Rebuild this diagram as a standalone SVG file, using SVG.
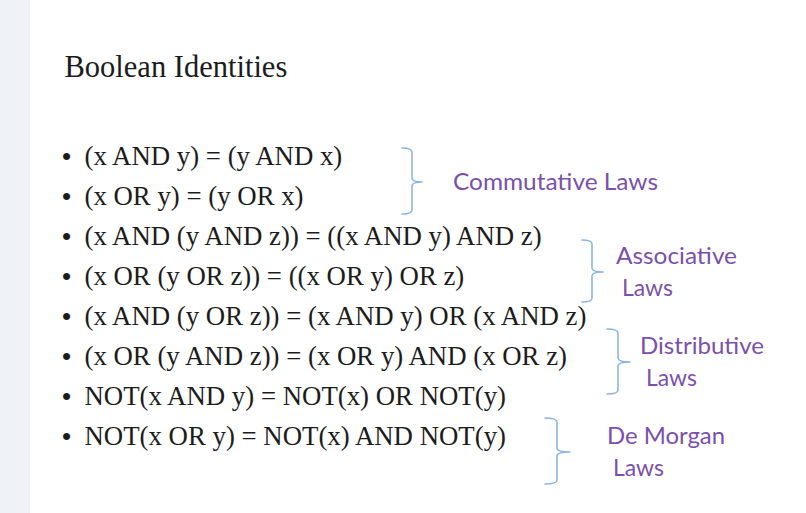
<svg xmlns="http://www.w3.org/2000/svg" width="806" height="513" viewBox="0 0 806 513">
<style>
.t{font-family:"Liberation Serif","Times New Roman",serif;font-size:26.8px;fill:#1c1c1c}
.title{font-family:"Liberation Serif","Times New Roman",serif;font-size:30.5px;fill:#1c1c1c}
.b{font-family:"Liberation Sans",Arial,sans-serif;font-size:26px;fill:#1c1c1c}
.lab{font-family:Lato,"Open Sans",sans-serif;font-size:22.5px;fill:#7b50aa}
.br{fill:none;stroke:#8fb5df;stroke-width:1.6;stroke-linecap:round;stroke-linejoin:round}
</style>
<rect x="0" y="0" width="806" height="513" fill="#ffffff"/>
<rect x="0" y="0" width="30" height="513" fill="#eff3f8"/>
<g id="title"><text class="title" x="64.5" y="77">Boolean Identities</text></g>
<g id="line1"><text class="b" x="62" y="164.5">•</text><text class="t" x="84.5" y="164.5">(x AND y) = (y AND x)</text></g>
<g id="line2"><text class="b" x="62" y="204.6">•</text><text class="t" x="84.5" y="204.6">(x OR y) = (y OR x)</text></g>
<g id="line3"><text class="b" x="62" y="244.8">•</text><text class="t" x="84.5" y="244.8">(x AND (y AND z)) = ((x AND y) AND z)</text></g>
<g id="line4"><text class="b" x="62" y="284.9">•</text><text class="t" x="84.5" y="284.9">(x OR (y OR z)) = ((x OR y) OR z)</text></g>
<g id="line5"><text class="b" x="62" y="325">•</text><text class="t" x="84.5" y="325">(x AND (y OR z)) = (x AND y) OR (x AND z)</text></g>
<g id="line6"><text class="b" x="62" y="365.2">•</text><text class="t" x="84.5" y="365.2">(x OR (y AND z)) = (x OR y) AND (x OR z)</text></g>
<g id="line7"><text class="b" x="62" y="405.3">•</text><text class="t" x="84.5" y="405.3">NOT(x AND y) = NOT(x) OR NOT(y)</text></g>
<g id="line8"><text class="b" x="62" y="445.4">•</text><text class="t" x="84.5" y="445.4">NOT(x OR y) = NOT(x) AND NOT(y)</text></g>
<g id="connectors">
<path class="br" d="M402,148 Q412,148 412,152 V178 Q412,182 422,182 Q412,182 412,186 V210 Q412,214 402,214"/>
<path class="br" d="M582,240 Q592,240 592,244 V268 Q592,272 603,272 Q592,272 592,276 V298 Q592,302 582,302"/>
<path class="br" d="M607,329 Q618,329 618,333 V358 Q618,362 630,362 Q618,362 618,366 V390 Q618,394 607,394"/>
<path class="br" d="M545,418 Q557,418 557,422 V448 Q557,452 570,452 Q557,452 557,456 V480 Q557,484 545,484"/>
</g>
<g id="commutative"><text class="lab" x="453" y="190" textLength="205" lengthAdjust="spacingAndGlyphs">Commutative Laws</text></g>
<g id="associative"><text class="lab" x="616" y="264" textLength="121" lengthAdjust="spacingAndGlyphs">Associative</text><text class="lab" x="622" y="296" textLength="51" lengthAdjust="spacingAndGlyphs">Laws</text></g>
<g id="distributive"><text class="lab" x="640" y="354" textLength="124" lengthAdjust="spacingAndGlyphs">Distributive</text><text class="lab" x="646" y="386" textLength="51" lengthAdjust="spacingAndGlyphs">Laws</text></g>
<g id="demorgan"><text class="lab" x="607" y="444" textLength="118" lengthAdjust="spacingAndGlyphs">De Morgan</text><text class="lab" x="613" y="476" textLength="51" lengthAdjust="spacingAndGlyphs">Laws</text></g>
</svg>
